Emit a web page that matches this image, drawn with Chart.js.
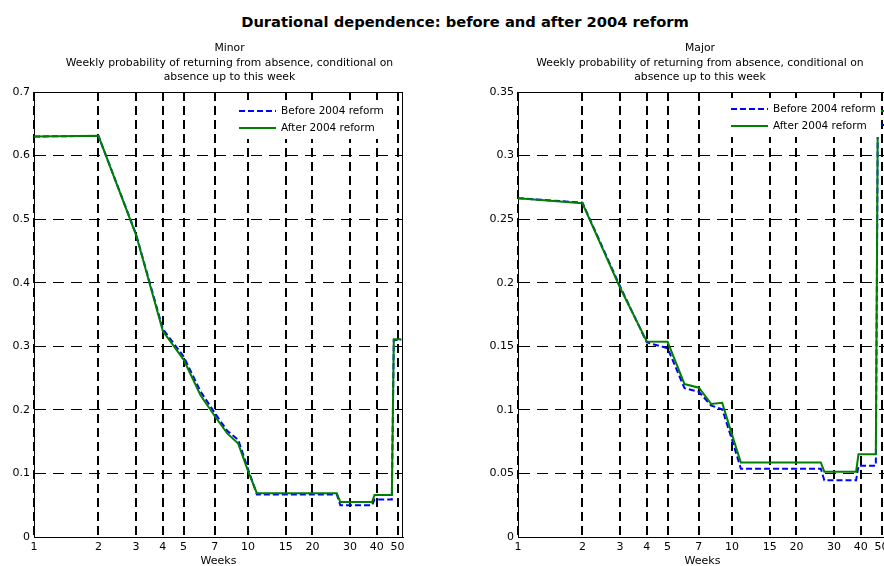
<!DOCTYPE html>
<html>
<head>
<meta charset="utf-8">
<script src="https://cdn.jsdelivr.net/npm/chart.js@4.4.1/dist/chart.umd.min.js"></script>
<style>
  html, body { margin: 0; padding: 0; background: #fff; overflow: hidden; }
  #wrap { position: relative; width: 884px; height: 566px; overflow: hidden; background: #fff; }
  #title { position: absolute; left: 0; width: 930px; top: 13px; line-height: 16px; text-align: center;
           font: bold 14.7px "DejaVu Sans", sans-serif; color: #000; }
  canvas { position: absolute; top: 0; }
</style>
</head>
<body>
<div id="wrap">
  <div id="title">Durational dependence: before and after 2004 reform</div>
  <canvas id="minor" width="440" height="566" style="left:0px"></canvas>
  <canvas id="major" width="460" height="566" style="left:440px"></canvas>
</div>
<script>
// Weeks at which the estimated weekly return probability changes
const weeks = [1, 2, 3, 4, 5, 6, 7, 8, 9, 10, 11, 26, 27, 38, 39, 47, 48, 52];

// Minor absences
const minorBefore = [0.630, 0.631, 0.476, 0.327, 0.284, 0.229, 0.195, 0.167, 0.153, 0.107, 0.067, 0.067, 0.050, 0.050, 0.059, 0.059, 0.310, 0.310];
const minorAfter  = [0.630, 0.631, 0.475, 0.324, 0.279, 0.223, 0.190, 0.163, 0.147, 0.104, 0.069, 0.069, 0.055, 0.055, 0.066, 0.066, 0.311, 0.311];

// Major absences
const majorBefore = [0.2665, 0.263, 0.197, 0.153, 0.1485, 0.117, 0.1142, 0.1033, 0.1005, 0.0765, 0.0537, 0.0537, 0.0446, 0.0446, 0.0561, 0.0561, 0.324, 0.324];
const majorAfter  = [0.2665, 0.2625, 0.196, 0.1537, 0.1535, 0.1203, 0.1174, 0.1046, 0.1056, 0.0805, 0.0586, 0.0586, 0.0514, 0.0514, 0.065, 0.065, 0.335, 0.335];

// Axis ticks
const weekTicks = [1, 2, 3, 4, 5, 7, 10, 15, 20, 30, 40, 50];
const minorYTicks = [0, 0.1, 0.2, 0.3, 0.4, 0.5, 0.6, 0.7];
const minorYLabels = ['0', '0.1', '0.2', '0.3', '0.4', '0.5', '0.6', '0.7'];
const majorYTicks = [0, 0.05, 0.1, 0.15, 0.2, 0.25, 0.3, 0.35];
const majorYLabels = ['0', '0.05', '0.1', '0.15', '0.2', '0.25', '0.3', '0.35'];

const seriesNames = ['Before 2004 reform', 'After 2004 reform'];
const subtitle = ['Weekly probability of returning from absence, conditional on', 'absence up to this week'];

const FAMILY = '"DejaVu Sans", sans-serif';
const BLUE = '#0000ff';
const GREEN = '#008000';

// Draws the box outline, the in-plot legend and the panel heading
const panelDecor = {
  id: 'panelDecor',
  afterDatasetsDraw(chart, args, opts) {
    const ctx = chart.ctx;
    const a = chart.chartArea;
    ctx.save();
    // legend with opaque background
    const lg = opts.legend;
    ctx.fillStyle = '#fff';
    ctx.fillRect(lg.box[0], lg.box[1], lg.box[2], lg.box[3]);
    chart.data.datasets.forEach((ds, i) => {
      const y = lg.rows[i];
      ctx.beginPath();
      ctx.strokeStyle = ds.borderColor;
      ctx.lineWidth = ds.borderWidth;
      ctx.setLineDash(ds.borderDash || []);
      ctx.moveTo(lg.x, y);
      ctx.lineTo(lg.x + lg.w, y);
      ctx.stroke();
      ctx.setLineDash([]);
      ctx.fillStyle = '#000';
      ctx.font = '10.5px ' + FAMILY;
      ctx.textAlign = 'left';
      ctx.textBaseline = 'middle';
      ctx.fillText(ds.label, lg.textX, y);
    });
    // top and right edges of the axes box
    ctx.strokeStyle = '#000';
    ctx.lineWidth = 1;
    ctx.beginPath();
    ctx.moveTo(a.left, Math.round(a.top) + 0.5);
    ctx.lineTo(a.right, Math.round(a.top) + 0.5);
    ctx.moveTo(Math.round(a.right) - 0.5, a.top);
    ctx.lineTo(Math.round(a.right) - 0.5, a.bottom);
    ctx.stroke();
    // heading
    ctx.fillStyle = '#000';
    ctx.font = '10.8px ' + FAMILY;
    ctx.textAlign = 'center';
    ctx.textBaseline = 'alphabetic';
    opts.heading.forEach((line, i) => ctx.fillText(line, opts.headX, opts.headY[i]));
    ctx.restore();
  }
};

function makePanel(id, before, after, yMax, yTicks, yLabels, pad, decor) {
  const pts = vals => weeks.map((w, i) => ({ x: w, y: vals[i] }));
  return new Chart(document.getElementById(id), {
    type: 'line',
    data: {
      datasets: [
        { label: seriesNames[0], data: pts(before), borderColor: BLUE, borderWidth: 2,
          borderDash: [6, 3], pointRadius: 0, tension: 0, fill: false, order: 2 },
        { label: seriesNames[1], data: pts(after), borderColor: GREEN, borderWidth: 2,
          pointRadius: 0, tension: 0, fill: false, order: 1 }
      ]
    },
    options: {
      responsive: false,
      animation: false,
      devicePixelRatio: 1,
      layout: { padding: { left: pad.left, right: pad.right, top: 92, bottom: 0 } },
      plugins: {
        legend: { display: false },
        tooltip: { enabled: false },
        title: { display: false },
        panelDecor: decor
      },
      scales: {
        x: {
          type: 'logarithmic', position: 'bottom', min: 1, max: 53,
          afterBuildTicks: s => { s.ticks = weekTicks.map(v => ({ value: v })); },
          afterFit: s => { s.height = 29; },
          ticks: { autoSkip: false, maxRotation: 0, padding: 4, color: '#000',
                   font: { family: FAMILY, size: 11 }, callback: v => String(v) },
          grid: { color: '#000', lineWidth: 2, drawTicks: false },
          border: { display: true, color: '#000', width: 1, dash: [9, 5] },
          title: { display: true, text: 'Weeks', color: '#000',
                   font: { family: FAMILY, size: 11, lineHeight: 0.8 }, padding: { top: 0, bottom: 0 } }
        },
        y: {
          type: 'linear', min: 0, max: yMax,
          afterBuildTicks: s => { s.ticks = yTicks.map(v => ({ value: v })); },
          afterFit: s => { s.width = 34; },
          ticks: { padding: 4, color: '#000', font: { family: FAMILY, size: 11 },
                   callback: (v, i) => yLabels[i] },
          grid: { color: '#000', lineWidth: 1, drawTicks: false },
          border: { display: true, color: '#000', width: 1, dash: [11, 7] }
        }
      }
    },
    plugins: [panelDecor]
  });
}

makePanel('minor', minorBefore, minorAfter, 0.7, minorYTicks, minorYLabels,
  { left: 0, right: 37 },
  { legend: { box: [233, 100, 156, 39], x: 239, w: 37, textX: 281, rows: [111, 128] },
    heading: ['Minor'].concat(subtitle), headX: 229.5, headY: [51, 66, 80] });

makePanel('major', majorBefore, majorAfter, 0.35, majorYTicks, majorYLabels,
  { left: 44, right: 13 },
  { legend: { box: [285, 98, 156, 39], x: 291, w: 37, textX: 333, rows: [109, 126] },
    heading: ['Major'].concat(subtitle), headX: 260, headY: [51, 66, 80] });
</script>
</body>
</html>
